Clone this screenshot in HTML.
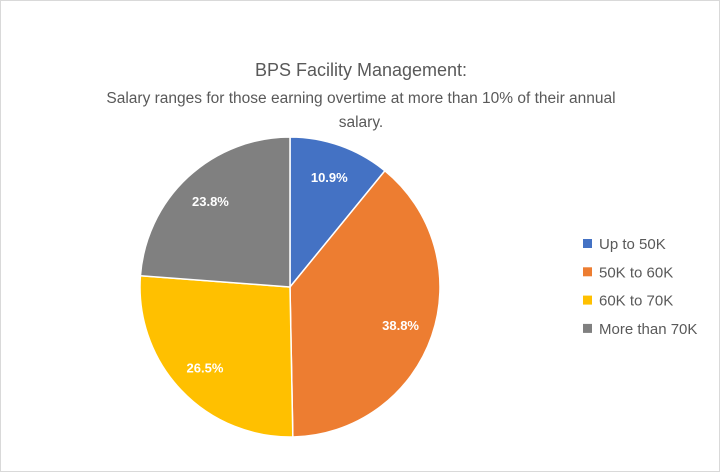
<!DOCTYPE html>
<html><head><meta charset="utf-8"><style>
body{margin:0;background:#fff;}
#wrap{position:relative;width:718px;height:470px;border:1px solid #d9d9d9;background:#fff;font-family:"Liberation Sans",sans-serif;}
</style></head><body>
<div id="wrap">
<svg id="chart" width="718" height="470">
<text x="360" y="75" text-anchor="middle" font-size="18" fill="#595959">BPS Facility Management:</text>
<text x="360" y="102" text-anchor="middle" font-size="15.5" fill="#595959">Salary ranges for those earning overtime at more than 10% of their annual</text>
<text x="360" y="126" text-anchor="middle" font-size="15.5" fill="#595959">salary.</text>
<g id="slices"></g>
<g id="labels"></g>
<g id="legend"></g>
</svg>
</div>
<script>
const categories=["Up to 50K","50K to 60K","60K to 70K","More than 70K"];
const values=[10.9,38.8,26.5,23.8];
const valueLabels=["10.9%","38.8%","26.5%","23.8%"];
const colors=["#4472c4","#ed7d31","#ffc000","#808080"];
const NS="http://www.w3.org/2000/svg";
const cx=289,cy=286,r=150;
const total=values.reduce((a,b)=>a+b,0);
const sl=document.getElementById('slices'),lb=document.getElementById('labels'),lg=document.getElementById('legend');
let a0=0;
values.forEach((v,i)=>{
  const a1=a0+v/total*2*Math.PI;
  const x0=cx+r*Math.sin(a0),y0=cy-r*Math.cos(a0),x1=cx+r*Math.sin(a1),y1=cy-r*Math.cos(a1);
  const p=document.createElementNS(NS,'path');
  p.setAttribute('d',`M${cx},${cy}L${x0},${y0}A${r},${r} 0 ${a1-a0>Math.PI?1:0} 1 ${x1},${y1}Z`);
  p.setAttribute('fill',colors[i]);p.setAttribute('stroke','#fff');p.setAttribute('stroke-width','1.5');
  
  
  sl.appendChild(p);
  const am=(a0+a1)/2,lr=r*0.78;
  const t=document.createElementNS(NS,'text');
  t.setAttribute('x',cx+lr*Math.sin(am));t.setAttribute('y',cy-lr*Math.cos(am)+5);
  t.setAttribute('text-anchor','middle');t.setAttribute('font-size','13');t.setAttribute('font-weight','bold');t.setAttribute('fill','#fff');
  t.textContent=valueLabels[i];
  
  
  lb.appendChild(t);
  const ly=243+i*28.3;
  const g=document.createElementNS(NS,'g');
  
  
  const s=document.createElementNS(NS,'rect');
  s.setAttribute('x',582);s.setAttribute('y',ly-5);s.setAttribute('width',9);s.setAttribute('height',9);s.setAttribute('fill',colors[i]);
  const lt=document.createElementNS(NS,'text');
  lt.setAttribute('x',598);lt.setAttribute('y',ly+5);lt.setAttribute('font-size','15');lt.setAttribute('fill','#595959');
  lt.textContent=categories[i];
  g.appendChild(s);g.appendChild(lt);lg.appendChild(g);
  a0=a1;
});
</script>
</body></html>
